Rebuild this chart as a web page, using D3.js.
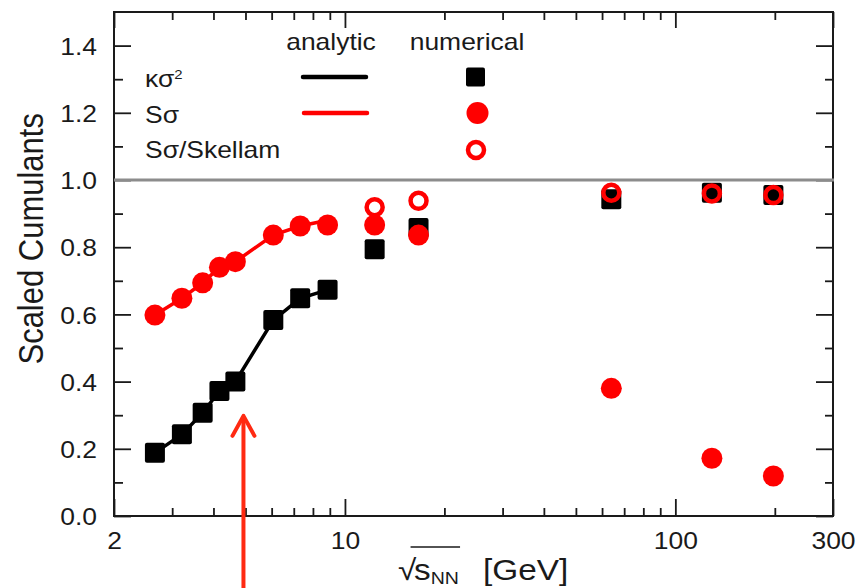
<!DOCTYPE html>
<html>
<head>
<meta charset="utf-8">
<script src="https://cdn.jsdelivr.net/npm/d3@7"></script>
<style>
	body { margin: 0; background: #fff; }
	svg { display: block; }
</style>
</head>
<body>
<div id="visHolder"></div>
<script>
// collision energies (GeV) and scaled cumulants
const energies = [2.66, 3.21, 3.71, 4.17, 4.66, 6.07, 7.32, 8.86, 12.3, 16.7, 64, 129, 198];
const kappaSigma2Numerical = [0.188, 0.243, 0.307, 0.372, 0.4, 0.583, 0.648, 0.673, 0.794, 0.857, 0.943, 0.962, 0.955];
const sSigmaNumerical = [0.598, 0.648, 0.694, 0.74, 0.757, 0.836, 0.863, 0.866, 0.866, 0.836, 0.38, 0.172, 0.119];

const skellamEnergies = [12.3, 16.7, 64, 129, 198];
const sSigmaSkellam = [0.919, 0.938, 0.962, 0.96, 0.955];

const analyticEnergies = [2.66, 3.21, 3.71, 4.17, 4.66, 6.07, 7.32, 8.86];
const kappaSigma2Analytic = [0.188, 0.243, 0.307, 0.372, 0.4, 0.583, 0.648, 0.673];
const sSigmaAnalytic = [0.598, 0.648, 0.694, 0.74, 0.757, 0.836, 0.863, 0.88];

const xMajorTicks = [2, 10, 100, 300];
const xMinorTicks = [3, 4, 5, 6, 7, 8, 9, 20, 30, 40, 50, 60, 70, 80, 90, 200];
const yMajorTicks = [0, 0.2, 0.4, 0.6, 0.8, 1.0, 1.2, 1.4];
const yMinorTicks = [0.1, 0.3, 0.5, 0.7, 0.9, 1.1, 1.3];

const arrowEnergy = 4.93;
const arrowTip = 0.298;

const width = 859;
const height = 588;
const plot = { left: 114, right: 833, top: 12, bottom: 516 };
const SX = 1.15; // the fonts in the figure are drawn wide
const FONT = "'Liberation Sans', Arial, Helvetica, sans-serif";
const RED = "#ff0000";
const INK = "#1a1a1a";

const x = d3.scaleLog().domain([2, 300]).range([plot.left, plot.right]);
const y = d3.scaleLinear().domain([0, 1.5]).range([plot.bottom, plot.top]);

const svg = d3
	.select("#visHolder")
	.append("svg")
	.attr("width", width)
	.attr("height", height)
	.attr("viewBox", [0, 0, width, height])
	.style("font-family", FONT);

//axes
function styleAxis(g, withLabels) {
	g.select(".domain").remove();
	g.selectAll(".tick line").attr("stroke", INK).attr("stroke-width", 1.8);
	if (withLabels) {
		g.selectAll(".tick text")
			.attr("font-size", 23)
			.attr("font-family", FONT)
			.attr("fill", INK)
			.attr("transform", `scale(${SX},1)`);
	} else {
		g.selectAll(".tick text").remove();
	}
}

svg.append("g")
	.attr("transform", `translate(0,${plot.bottom})`)
	.call(d3.axisBottom(x).tickValues(xMajorTicks).tickSize(-17).tickPadding(16.5).tickFormat(d3.format("d")))
	.call((g) => styleAxis(g, true))
	.call((g) => g.selectAll(".tick text").attr("dy", "0.71em"));
svg.append("g")
	.attr("transform", `translate(0,${plot.bottom})`)
	.call(d3.axisBottom(x).tickValues(xMinorTicks).tickSize(-8))
	.call((g) => styleAxis(g, false));
svg.append("g")
	.attr("transform", `translate(0,${plot.top})`)
	.call(d3.axisTop(x).tickValues(xMajorTicks).tickSize(-16))
	.call((g) => styleAxis(g, false));
svg.append("g")
	.attr("transform", `translate(0,${plot.top})`)
	.call(d3.axisTop(x).tickValues(xMinorTicks).tickSize(-8))
	.call((g) => styleAxis(g, false));

svg.append("g")
	.attr("transform", `translate(${plot.left},0)`)
	.call(d3.axisLeft(y).tickValues(yMajorTicks).tickSize(-17).tickPadding(14.8).tickFormat(d3.format(".1f")))
	.call((g) => styleAxis(g, true))
	.call((g) => g.selectAll(".tick text").attr("dy", "0.38em"));
svg.append("g")
	.attr("transform", `translate(${plot.left},0)`)
	.call(d3.axisLeft(y).tickValues(yMinorTicks).tickSize(-9))
	.call((g) => styleAxis(g, false));
svg.append("g")
	.attr("transform", `translate(${plot.right},0)`)
	.call(d3.axisRight(y).tickValues(yMajorTicks).tickSize(-17))
	.call((g) => styleAxis(g, false));
svg.append("g")
	.attr("transform", `translate(${plot.right},0)`)
	.call(d3.axisRight(y).tickValues(yMinorTicks).tickSize(-8))
	.call((g) => styleAxis(g, false));

svg.append("rect")
	.attr("x", plot.left)
	.attr("y", plot.top)
	.attr("width", plot.right - plot.left)
	.attr("height", plot.bottom - plot.top)
	.attr("fill", "none")
	.attr("stroke", INK)
	.attr("stroke-width", 2);

//reference line at 1
svg.append("line")
	.attr("x1", plot.left)
	.attr("x2", plot.right + 1)
	.attr("y1", y(1))
	.attr("y2", y(1))
	.attr("stroke", "#8c8c8c")
	.attr("stroke-width", 3);

//axis titles
svg.append("text")
	.attr("transform", `translate(43,${(y(0.4) + y(1.25)) / 2}) rotate(-90) scale(1,${SX})`)
	.attr("text-anchor", "middle")
	.attr("font-size", 31)
	.attr("fill", INK)
	.text("Scaled Cumulants");

const xTitleGroup = svg.append("g").attr("transform", `translate(398,580) scale(${SX},1)`);
const xTitle = xTitleGroup.append("text").attr("font-size", 29).attr("fill", INK);
xTitle.append("tspan").text("√");
xTitle.append("tspan").attr("dx", -2).text("s");
xTitle.append("tspan").attr("font-size", 17).attr("dy", 4).text("NN");
xTitle.append("tspan").attr("x", 74).attr("dy", -4).text("[GeV]");
const xTitleNode = xTitle.node();
xTitleGroup
	.append("line")
	.attr("x1", xTitleNode.getStartPositionOfChar(1).x - 3)
	.attr("x2", xTitleNode.getEndPositionOfChar(3).x + 1)
	.attr("y1", -33)
	.attr("y2", -33)
	.attr("stroke", INK)
	.attr("stroke-width", 1.5);

//analytic curves
const line = d3
	.line()
	.x((d) => x(d[0]))
	.y((d) => y(d[1]));

svg.append("path")
	.attr("d", line(d3.zip(analyticEnergies, kappaSigma2Analytic)))
	.attr("fill", "none")
	.attr("stroke", "#000")
	.attr("stroke-width", 3.5);
svg.append("path")
	.attr("d", line(d3.zip(analyticEnergies, sSigmaAnalytic)))
	.attr("fill", "none")
	.attr("stroke", RED)
	.attr("stroke-width", 3.5);

//numerical points
const SQ = 20;
svg.append("g")
	.selectAll("rect")
	.data(d3.zip(energies, kappaSigma2Numerical))
	.join("rect")
	.attr("x", (d) => x(d[0]) - SQ / 2)
	.attr("y", (d) => y(d[1]) - SQ / 2)
	.attr("width", SQ)
	.attr("height", SQ)
	.attr("rx", 2)
	.attr("fill", "#000");

svg.append("g")
	.selectAll("circle")
	.data(d3.zip(energies, sSigmaNumerical))
	.join("circle")
	.attr("cx", (d) => x(d[0]))
	.attr("cy", (d) => y(d[1]))
	.attr("r", 10.5)
	.attr("fill", RED);

svg.append("g")
	.selectAll("circle")
	.data(d3.zip(skellamEnergies, sSigmaSkellam))
	.join("circle")
	.attr("cx", (d) => x(d[0]))
	.attr("cy", (d) => y(d[1]))
	.attr("r", 8)
	.attr("fill", "none")
	.attr("stroke", RED)
	.attr("stroke-width", 4.5);

//legend
function legendText(px, py, anchor, size) {
	return svg
		.append("text")
		.attr("transform", `translate(${px},${py}) scale(${SX},1)`)
		.attr("text-anchor", anchor)
		.attr("font-size", size)
		.attr("fill", INK);
}

legendText(331, 50, "middle", 23).text("analytic");
legendText(467, 50, "middle", 23).text("numerical");

const kappaLabel = legendText(145, 86.5, "start", 23);
kappaLabel.append("tspan").text("κσ");
kappaLabel.append("tspan").attr("font-size", 13).attr("dy", -8).text("2");
legendText(145, 122.5, "start", 23).text("Sσ");
legendText(145, 158, "start", 23).text("Sσ/Skellam");

svg.append("line")
	.attr("x1", 303).attr("x2", 366).attr("y1", 77).attr("y2", 77)
	.attr("stroke", "#000").attr("stroke-width", 4.5).attr("stroke-linecap", "round");
svg.append("line")
	.attr("x1", 304).attr("x2", 367).attr("y1", 113).attr("y2", 113)
	.attr("stroke", RED).attr("stroke-width", 4.5).attr("stroke-linecap", "round");
svg.append("rect")
	.attr("x", 475.5 - 9.5).attr("y", 77 - 9.5).attr("width", 19).attr("height", 19)
	.attr("rx", 2).attr("fill", "#000");
svg.append("circle").attr("cx", 477.5).attr("cy", 113).attr("r", 11).attr("fill", RED);
svg.append("circle").attr("cx", 476).attr("cy", 150).attr("r", 8)
	.attr("fill", "none").attr("stroke", RED).attr("stroke-width", 4.5);

//annotation arrow
const arrow = svg
	.append("g")
	.attr("stroke", "#ff2a12")
	.attr("stroke-width", 4)
	.attr("stroke-linecap", "round")
	.attr("stroke-linejoin", "round")
	.attr("fill", "none");
arrow.append("line")
	.attr("x1", x(arrowEnergy)).attr("x2", x(arrowEnergy))
	.attr("y1", height + 5).attr("y2", y(arrowTip) + 3);
arrow.append("path")
	.attr("d", d3.line()([
		[x(arrowEnergy) - 11, y(arrowTip) + 20],
		[x(arrowEnergy), y(arrowTip)],
		[x(arrowEnergy) + 11, y(arrowTip) + 20],
	]));
</script>
</body>
</html>
